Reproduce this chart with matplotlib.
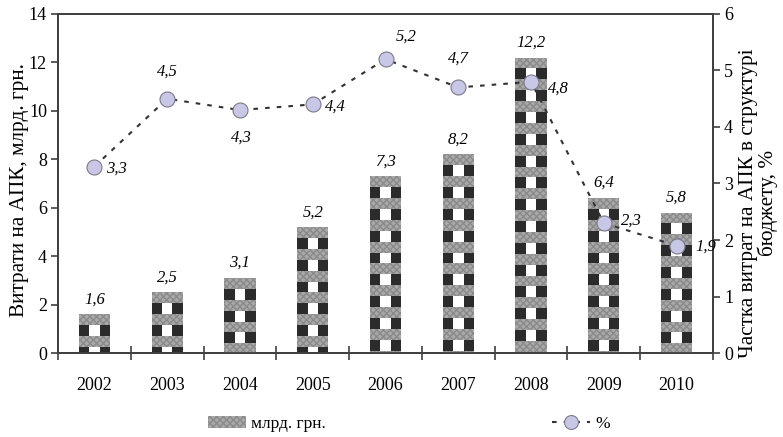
import matplotlib
matplotlib.use('Agg')
import matplotlib.pyplot as plt
from matplotlib.patches import Rectangle, Patch
from matplotlib.lines import Line2D

plt.rcParams['font.family'] = ['Liberation Serif', 'DejaVu Serif']

years = ['2002', '2003', '2004', '2005', '2006', '2007', '2008', '2009', '2010']
spend = [1.6, 2.5, 3.1, 5.2, 7.3, 8.2, 12.2, 6.4, 5.8]        # млрд. грн.
share = [3.3, 4.5, 4.3, 4.4, 5.2, 4.7, 4.8, 2.3, 1.9]         # %

# label offsets (points) for the % labels
share_offsets = [(16, -1.5), (0, 19.5), (1, -20), (16, -1.7), (15, 16.5),
                 (0, 21), (20, -5), (20, 1.5), (21, -1)]

dark = '#2b2b2b'
grey = '#a9a9a9'
dash = (0, (2.2, 3.4))

fig = plt.figure(figsize=(7.83, 4.37), dpi=100)
ax = fig.add_axes([0.0741, 0.1922, 0.8365, 0.7758])
ax2 = ax.twinx()

x = list(range(len(years)))
w = 0.43
bars = ax.bar(x, spend, width=w, color='white', edgecolor='none', zorder=1)

# checkered fill: dark side stripes and grey horizontal bands from the top
band_h = 0.45
period = 0.9
for b in bars:
    x0, h = b.get_x(), b.get_height()
    ax.add_patch(Rectangle((x0, 0), w / 3, h, color=dark, lw=0, zorder=2))
    ax.add_patch(Rectangle((x0 + 2 * w / 3, 0), w / 3, h, color=dark, lw=0, zorder=2))
    top = h
    while top > 0:
        bot = max(top - band_h, 0)
        ax.add_patch(Rectangle((x0, bot), w, top - bot, facecolor=grey,
                               edgecolor='#8a8a8a', hatch='xxxxx', lw=0, zorder=3))
        top -= period

for i, v in enumerate(spend):
    ax.annotate(f'{v:.1f}'.replace('.', ','), (i, v), xytext=(0, 5),
                textcoords='offset points', ha='center', va='bottom',
                fontsize=12, style='italic')

ax.set_xlim(-0.5, len(years) - 0.5)
ax.set_ylim(0, 14)
ax.set_yticks(range(0, 15, 2))
ax.set_xticks(x)
ax.set_xticklabels(years)
ax.set_xticks([i - 0.5 for i in range(len(years) + 1)], minor=True)
ax.tick_params(axis='x', which='major', length=0, pad=17, labelsize=13)
ax.tick_params(axis='x', which='minor', length=10, width=1.2, color='#404040', direction='inout')
ax.tick_params(axis='y', length=5, width=1.2, color='#404040', labelsize=13, pad=3)
ax.set_ylabel('Витрати на АПК, млрд. грн.', fontsize=15.3)
ax.yaxis.set_label_coords(-0.045, 0.481)

ax2.plot(x, share, color='#333333', lw=1.5, linestyle=dash,
         marker='o', markersize=10.8, markerfacecolor='#c8c8e6',
         markeredgecolor='#7a7a8a', markeredgewidth=0.8, zorder=5)
for i, v in enumerate(share):
    dx, dy = share_offsets[i]
    ax2.annotate(f'{v:.1f}'.replace('.', ','), (i, v), xytext=(dx, dy),
                 textcoords='offset points', ha='center', va='center',
                 fontsize=12, style='italic', zorder=6)
ax2.set_ylim(0, 6)
ax2.set_yticks(range(0, 7))
ax2.tick_params(axis='y', length=5, width=1.2, color='#404040', labelsize=13, pad=3)
ax2.set_ylabel('Частка витрат на АПК в структурі\nбюджету, %', fontsize=15.3,
               linespacing=0.95)
ax2.yaxis.set_label_coords(1.040, 0.442)

for a in (ax, ax2):
    for s in a.spines.values():
        s.set_color('#404040')
        s.set_linewidth(1.3)

h_bar = Patch(facecolor=grey, edgecolor='#8a8a8a', hatch='xxxxx', lw=0)
h_line = Line2D([], [], color='#333333', lw=1.5, linestyle=dash,
                marker='o', markersize=10, markerfacecolor='#c8c8e6',
                markeredgecolor='#7a7a8a', markeredgewidth=0.8)
fig.legend([h_bar, h_line], ['млрд. грн.', '%'], loc='lower center',
           bbox_to_anchor=(0.522, -0.025), ncol=2, frameon=False, fontsize=12.5,
           handlelength=2.2, handletextpad=0.3, columnspacing=13.0)

fig.savefig('out.png', dpi=100)
